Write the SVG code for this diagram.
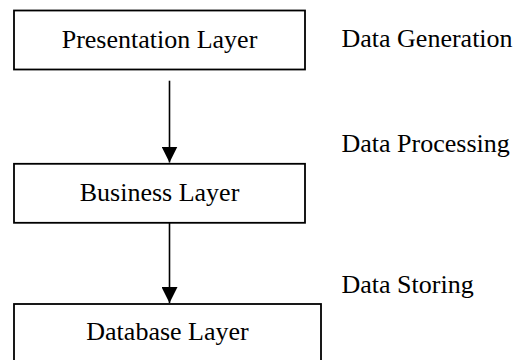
<svg xmlns="http://www.w3.org/2000/svg" width="514" height="360" viewBox="0 0 514 360">
  <style>
    .box { fill: #ffffff; stroke: #000000; stroke-width: 1.8; }
    .lbl { font-family: "Liberation Serif", "Times New Roman", serif; font-size: 26px; fill: #000000; }
    .mid { text-anchor: middle; }
    .conn { stroke: #000000; stroke-width: 1.6; fill: none; }
  </style>
  <defs>
    <marker id="arrow" markerUnits="userSpaceOnUse" markerWidth="16" markerHeight="16" refX="16" refY="8" orient="auto" viewBox="0 0 16 16">
      <path d="M0,0 L16,8 L0,16 Z" fill="#000000"/>
    </marker>
  </defs>
  <rect width="514" height="360" fill="#ffffff"/>

  <g id="presentation-layer">
    <rect class="box" x="14" y="10.5" width="291" height="59"/>
    <text class="lbl mid" x="159.5" y="47.5">Presentation Layer</text>
  </g>
  <g id="business-layer">
    <rect class="box" x="14" y="163.8" width="291" height="59"/>
    <text class="lbl mid" x="159.5" y="201">Business Layer</text>
  </g>
  <g id="database-layer">
    <rect class="box" x="14" y="304" width="307" height="70"/>
    <text class="lbl mid" x="167.5" y="339.5">Database Layer</text>
  </g>

  <g id="side-labels">
    <text class="lbl" x="341.5" y="47">Data Generation</text>
    <text class="lbl" x="341.5" y="152">Data Processing</text>
    <text class="lbl" x="341.5" y="292.5">Data Storing</text>
  </g>

  <g id="connectors">
    <line class="conn" x1="169.5" y1="80.7" x2="169.5" y2="162.5" marker-end="url(#arrow)"/>
    <line class="conn" x1="169.5" y1="222.8" x2="169.5" y2="303" marker-end="url(#arrow)"/>
  </g>
</svg>
